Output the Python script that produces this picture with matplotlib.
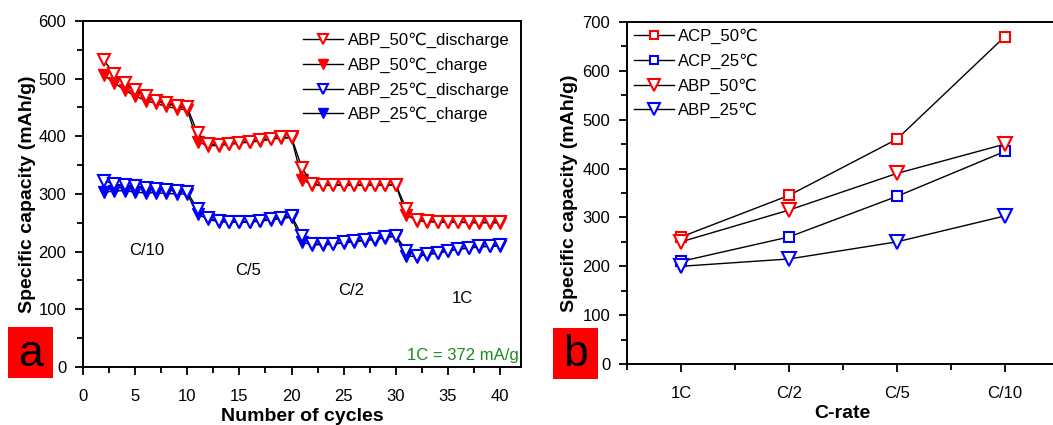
import numpy as np
import matplotlib.pyplot as plt
from matplotlib.ticker import MultipleLocator
from matplotlib.patches import Rectangle

plt.rcParams['font.family'] = ['Liberation Sans', 'DejaVu Sans']

# ---- panel a data ----
cycles = list(range(2, 41))
abp50_dis = [532, 508, 492, 480, 470, 462, 457, 452, 450,
             405, 386, 385, 387, 389, 391, 393, 396, 398, 398,
             345, 317, 316, 316, 316, 316, 316, 316, 316, 316,
             274, 255, 253, 252, 252, 252, 251, 251, 251, 251]
abp50_chg = [506, 493, 480, 470, 462, 457, 452, 448, 446,
             390, 384, 384, 386, 388, 390, 392, 395, 397, 397,
             325, 316, 315, 315, 315, 315, 315, 315, 315, 315,
             264, 254, 252, 251, 251, 251, 250, 250, 250, 250]
abp25_dis = [323, 317, 315, 313, 311, 309, 307, 305, 303,
             274, 258, 253, 252, 252, 252, 254, 256, 258, 262,
             228, 213, 213, 214, 216, 218, 220, 222, 225, 228,
             202, 192, 196, 198, 202, 205, 207, 209, 210, 211]
abp25_chg = [303, 305, 306, 303, 302, 302, 301, 300, 300,
             265, 256, 252, 251, 251, 251, 253, 255, 257, 260,
             216, 212, 212, 213, 215, 217, 219, 221, 224, 227,
             193, 191, 195, 197, 201, 204, 206, 208, 209, 210]

# ---- panel b data ----
rates = ['1C', 'C/2', 'C/5', 'C/10']
acp50 = [260, 345, 460, 670]
acp25 = [210, 260, 343, 435]
abp50 = [250, 315, 390, 450]
abp25 = [200, 215, 250, 303]

fig = plt.figure(figsize=(10.53, 4.25), dpi=100)


def style_axes(ax):
    ax.tick_params(which='both', direction='out', labelsize=12, width=1.3,
                   top=False, right=False)
    ax.tick_params(which='major', length=6)
    ax.tick_params(which='minor', length=4)
    ax.tick_params(axis='x', which='major', pad=10)
    ax.tick_params(axis='y', which='major', pad=6)
    for s in ax.spines.values():
        s.set_linewidth(1.4)


# ================= panel a =================
ax1 = fig.add_axes([0.0788, 0.1365, 0.416, 0.8141])
ms = 9
ax1.plot(cycles, abp50_chg, '-', color='black', lw=1, marker='v', ms=ms,
         mfc='red', mec='red', label='ABP_50\u2103_charge', zorder=2)
ax1.plot(cycles, abp25_chg, '-', color='black', lw=1, marker='v', ms=ms,
         mfc='blue', mec='blue', label='ABP_25\u2103_charge', zorder=2)
ax1.plot(cycles, abp50_dis, '-', color='black', lw=1, marker='v', ms=ms,
         mfc='white', mec='red', mew=1.5, label='ABP_50\u2103_discharge', zorder=3)
ax1.plot(cycles, abp25_dis, '-', color='black', lw=1, marker='v', ms=ms,
         mfc='white', mec='blue', mew=1.5, label='ABP_25\u2103_discharge', zorder=3)

ax1.set_xlim(0, 42)
ax1.set_ylim(0, 600)
ax1.xaxis.set_major_locator(MultipleLocator(5))
ax1.xaxis.set_minor_locator(MultipleLocator(2.5))
ax1.yaxis.set_major_locator(MultipleLocator(100))
ax1.yaxis.set_minor_locator(MultipleLocator(50))
style_axes(ax1)
ax1.set_xlabel('Number of cycles', fontsize=14, fontweight='bold', labelpad=3)
ax1.set_ylabel('Specific capacity (mAh/g)', fontsize=14, fontweight='bold', labelpad=2)

h, l = ax1.get_legend_handles_labels()
order = [2, 0, 3, 1]
ax1.legend([h[i] for i in order], [l[i] for i in order], loc='upper right',
           frameon=False, fontsize=12, handlelength=2.4, handletextpad=0.25,
           labelspacing=0.55, borderaxespad=0.3, markerscale=0.8)

ax1.text(6.1, 202, 'C/10', fontsize=12, ha='center', va='center')
ax1.text(15.8, 167, 'C/5', fontsize=12, ha='center', va='center')
ax1.text(25.7, 132, 'C/2', fontsize=12, ha='center', va='center')
ax1.text(36.4, 118, '1C', fontsize=12, ha='center', va='center')
ax1.text(41.8, 20, '1C = 372 mA/g', fontsize=12, color='#1a8a1a', ha='right', va='center')

# ================= panel b =================
ax2 = fig.add_axes([0.5954, 0.1435, 0.410, 0.8047])
x = np.arange(1, len(rates) + 1)
ax2.plot(x, acp50, '-', color='black', lw=1, marker='s', ms=7, mfc='white',
         mec='red', mew=1.5, label='ACP_50\u2103')
ax2.plot(x, acp25, '-', color='black', lw=1, marker='s', ms=7, mfc='white',
         mec='blue', mew=1.5, label='ACP_25\u2103')
ax2.plot(x, abp50, '-', color='black', lw=1, marker='v', ms=9.5, mfc='white',
         mec='red', mew=1.5, label='ABP_50\u2103')
ax2.plot(x, abp25, '-', color='black', lw=1, marker='v', ms=9.5, mfc='white',
         mec='blue', mew=1.5, label='ABP_25\u2103')
ax2.set_xlim(0.5, 4.5)
ax2.set_ylim(0, 700)
ax2.set_xticks(x)
ax2.set_xticklabels(rates)
ax2.xaxis.set_minor_locator(MultipleLocator(0.5))
ax2.yaxis.set_major_locator(MultipleLocator(100))
ax2.yaxis.set_minor_locator(MultipleLocator(50))
style_axes(ax2)
ax2.set_xlabel('C-rate', fontsize=14, fontweight='bold', labelpad=3)
ax2.set_ylabel('Specific capacity (mAh/g)', fontsize=14, fontweight='bold', labelpad=3)
ax2.legend(loc='upper left', frameon=False, fontsize=12, handlelength=2.4,
           handletextpad=0.25, labelspacing=0.55, borderaxespad=0.0, markerscale=0.85)

# panel letters
for (x0, y0, txt) in [(8, 327, 'a'), (553, 328, 'b')]:
    fig.patches.append(Rectangle((x0 / 1053, 1 - (y0 + 51) / 425), 45 / 1053, 51 / 425,
                                 transform=fig.transFigure, facecolor='#ff0000',
                                 edgecolor='none', zorder=5))
    fig.text((x0 + 22.5) / 1053, 1 - (y0 + 27) / 425, txt, fontsize=32, ha='center',
             va='center', color='black', zorder=6)

fig.savefig('out.png', dpi=100)
